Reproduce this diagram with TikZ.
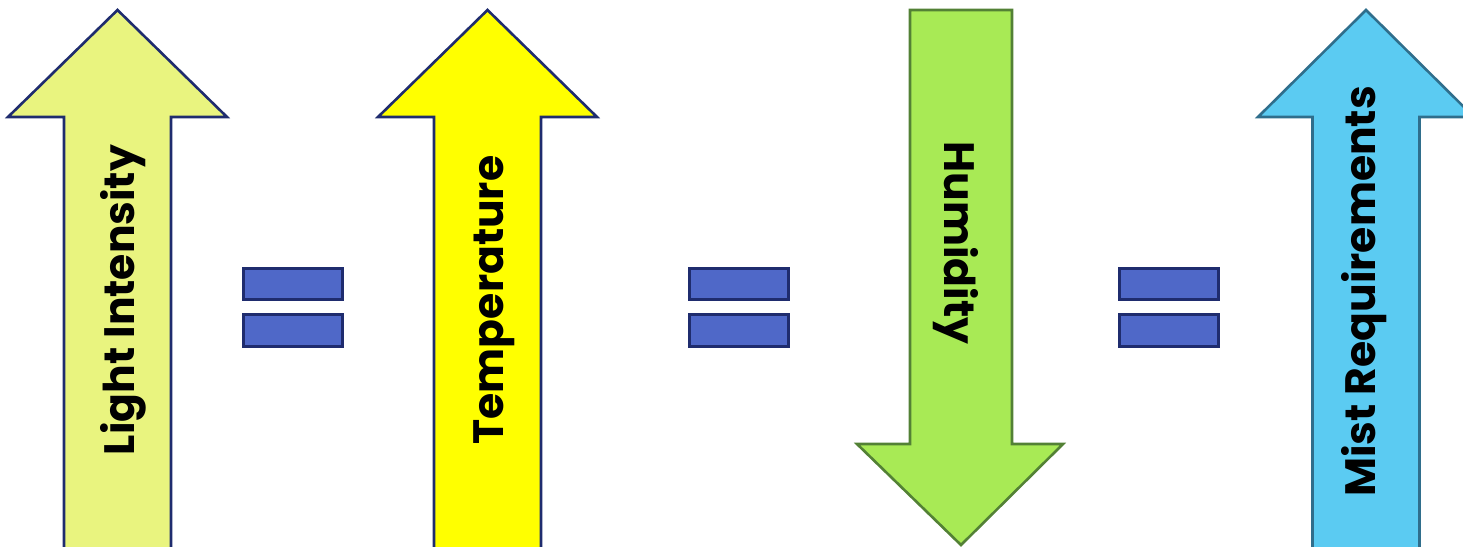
\documentclass[tikz,border=0pt]{standalone}
\usepackage{fontspec}
\newfontfamily\arrowfont{Poppins}
\definecolor{lightfill}{HTML}{E9F47F}
\definecolor{tempfill}{HTML}{FFFF00}
\definecolor{humfill}{HTML}{A8EA55}
\definecolor{humline}{HTML}{538135}
\definecolor{mistfill}{HTML}{5BCBF2}
\definecolor{mistline}{HTML}{2F6E8C}
\definecolor{navyline}{HTML}{1F2C6E}
\definecolor{eqfill}{HTML}{4F68C8}

\newcommand*{\tipy}{10}
\newcommand*{\heady}{117}
\begin{document}
\begin{tikzpicture}
[
	x=1pt, y=-1pt,
	arrowline/.style={line width=2.6pt, line join=miter},
	eqbar/.style={fill=eqfill, draw=navyline, line width=3pt},
	arrowlabel/.style={inner sep=0pt, font=\arrowfont\bfseries\fontsize{42.5}{48}\selectfont}
]
	\clip (0,0) rectangle (1463,546);

	% up arrows
	\foreach \cx/\hw/\fillc/\linec in {117.5/109.5/lightfill/navyline, 487.5/109.5/tempfill/navyline, 1366/108/mistfill/mistline} {
		\draw[arrowline, fill=\fillc, draw=\linec] (\cx,\tipy) -- ({\cx+\hw},\heady) -- ({\cx+53.5},\heady)
			-- ({\cx+53.5},560) -- ({\cx-53.5},560) -- ({\cx-53.5},\heady) -- ({\cx-\hw},\heady) -- cycle;
	}

	% down arrow
	\draw[arrowline, fill=humfill, draw=humline] (910,\tipy) -- (1012,\tipy) -- (1012,444) -- (1063,444)
		-- (961,545) -- (857,444) -- (910,444) -- cycle;

	% equals signs
	\foreach \ex in {242,687.5,1118} {
		\draw[eqbar] ({\ex+1.5},268.5) rectangle ({\ex+100.5},299.5);
		\draw[eqbar] ({\ex+1.5},314.5) rectangle ({\ex+100.5},346.5);
	}

	% labels
	\node[arrowlabel, rotate=90] (light) at (123.5,300) {Light Intensity};
	\node[arrowlabel, rotate=90] (temp) at (494,300) {Temperature};
	\node[arrowlabel, rotate=-90] (hum) at (956,243) {Humidity};
	\node[arrowlabel, rotate=90] (mist) at (1364,291.5) {Mist Requirements};

\end{tikzpicture}
\end{document}
